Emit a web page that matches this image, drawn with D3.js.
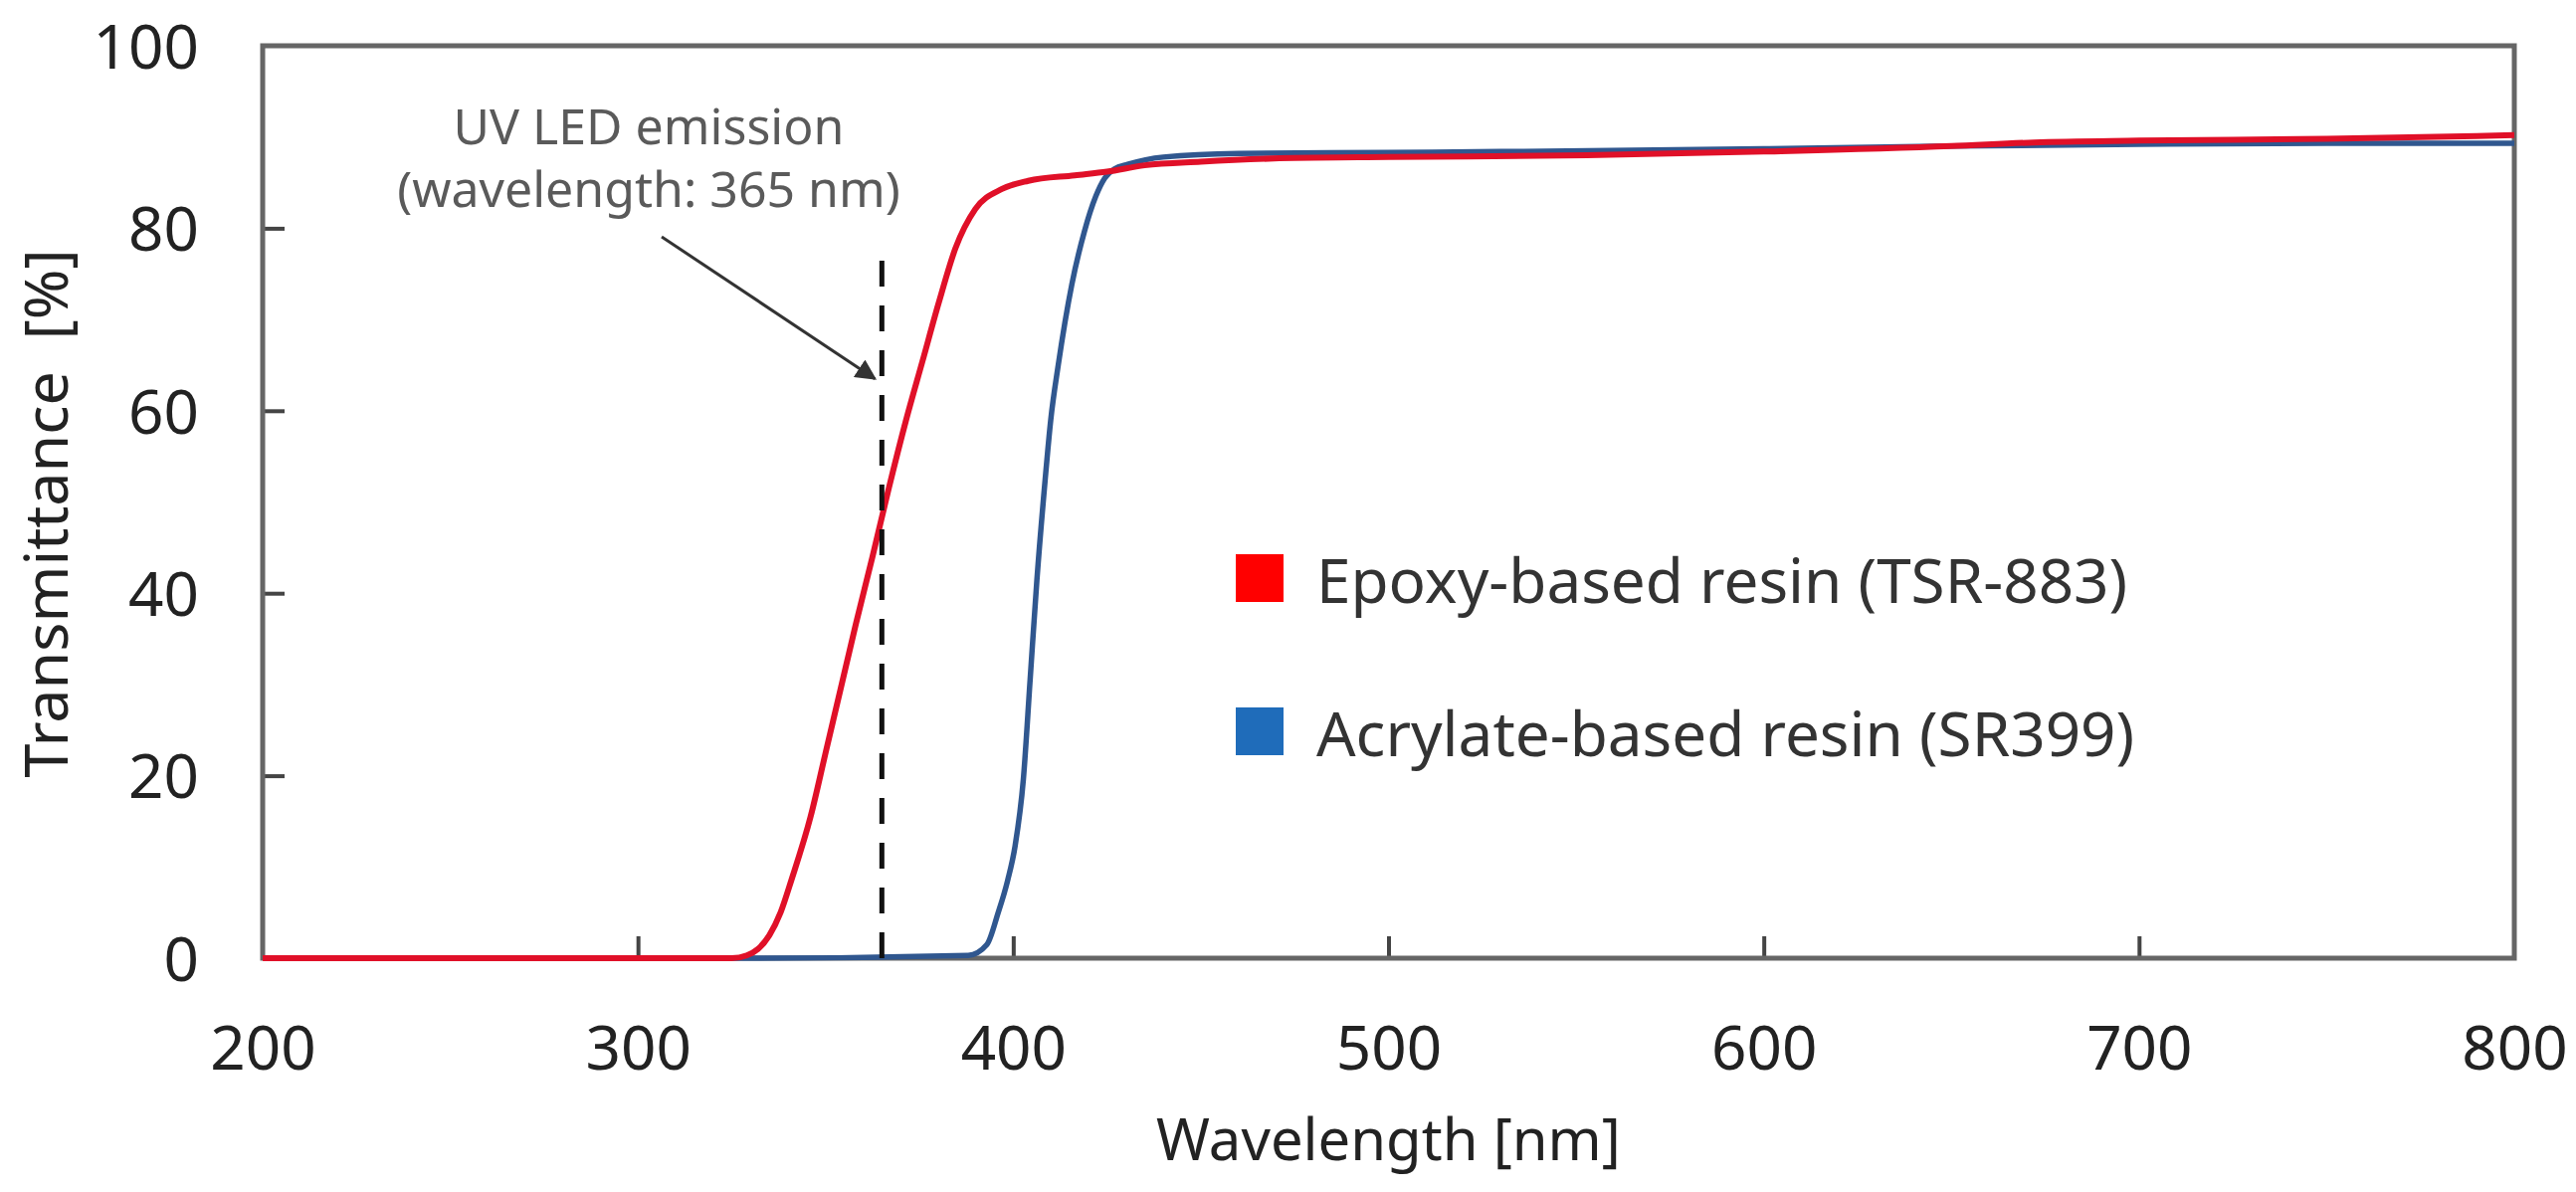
<!DOCTYPE html>
<html>
<head>
	<meta charset="utf-8">
	<title>Transmittance spectra</title>
	<script src="https://d3js.org/d3.v7.min.js"></script>
	<style>
		body { margin: 0; background: #fff; }
		text { font-family: "Noto Sans", "Open Sans", sans-serif; }
		.tick text { fill: #222; }
	</style>
</head>
<body>
	<svg width="2589" height="1198"></svg>
	<script>

		// wavelength [nm] and transmittance [%]
		var epoxyNm  = [200, 300, 325, 329, 332, 335, 338, 341, 346, 350, 354, 358, 362.5, 366.9, 371.4, 375.8, 380.2, 384.6, 389.9, 397, 404, 416.4, 425, 435, 450, 475, 500, 553, 600, 650, 672, 700, 750, 790, 800];
		var epoxyT   = [0, 0, 0, 0.3, 1, 2.5, 5, 8.7, 15.5, 22.5, 29.5, 36.5, 44, 51.6, 58.9, 65.4, 71.9, 77.8, 82.1, 84.3, 85.2, 85.8, 86.2, 86.9, 87.3, 87.7, 87.8, 88.0, 88.4, 89.0, 89.4, 89.6, 89.8, 90.1, 90.2];
		var acrylNm  = [200, 330, 388, 393, 396, 398.5, 400.5, 402.7, 404.5, 406.3, 408.5, 410, 412, 415.6, 419, 422, 424.4, 427, 430.5, 440, 460, 500, 530, 600, 650, 700, 750, 800];
		var acrylT   = [0, 0, 0.3, 1.5, 5, 8.5, 12.3, 19.6, 30.5, 41.4, 52.4, 59, 65, 73.8, 79.7, 83.5, 85.5, 86.5, 87, 87.8, 88.2, 88.3, 88.4, 88.7, 89.0, 89.2, 89.3, 89.3];

		var xTicks = [200, 300, 400, 500, 600, 700, 800];
		var yTicks = [0, 20, 40, 60, 80, 100];
		var legendNames = ["Epoxy-based resin (TSR-883)", "Acrylate-based resin (SR399)"];
		var ledNm = 365, ledTop = 76.6;

		var svg = d3.select("svg");

		var x = d3.scaleLinear().domain([200, 800]).range([264, 2527]),
		y = d3.scaleLinear().domain([0, 100]).range([963, 46]);

		svg.append("rect").attr("width", 2589).attr("height", 1198).attr("fill", "#fff");

		// axes with inward ticks
		var gx = svg.append("g")
		.attr("transform", "translate(0," + y(0) + ")")
		.call(d3.axisBottom(x).tickValues(xTicks).tickSize(-22).tickPadding(0).tickFormat(d3.format("d")));
		gx.selectAll(".tick text").attr("y", 112).attr("dy", 0).style("font-size", "62px");

		var gy = svg.append("g")
		.attr("transform", "translate(" + x(200) + ",0)")
		.call(d3.axisLeft(y).tickValues(yTicks).tickSize(-22).tickPadding(0));
		gy.selectAll(".tick text").attr("x", -64).attr("dy", "0.36em").style("font-size", "62px");

		svg.selectAll(".domain").remove();
		svg.selectAll(".tick line").attr("stroke", "#444").attr("stroke-width", 4);
		gx.selectAll(".tick").filter(function(d) { return d == 200 || d == 800; }).select("line").remove();
		gy.selectAll(".tick").filter(function(d) { return d == 0 || d == 100; }).select("line").remove();

		// frame
		svg.append("rect")
		.attr("x", x(200)).attr("y", y(100))
		.attr("width", x(800) - x(200)).attr("height", y(0) - y(100))
		.attr("fill", "none").attr("stroke", "#666").attr("stroke-width", 5);

		// axis titles
		svg.append("text")
		.attr("x", (x(200) + x(800)) / 2).attr("y", 1166)
		.attr("text-anchor", "middle").style("font-size", "58px").attr("fill", "#222")
		.text("Wavelength [nm]");

		svg.append("text")
		.attr("transform", "translate(68," + 516 + ") rotate(-90)")
		.attr("text-anchor", "middle").style("font-size", "61px").attr("fill", "#222")
		.attr("xml:space", "preserve")
		.text("Transmittance  [%]");

		// spectra
		var line = d3.line()
		.x(function(d) { return x(d[0]); })
		.y(function(d) { return y(d[1]); })
		.curve(d3.curveMonotoneX);

		svg.append("path")
		.datum(d3.zip(acrylNm, acrylT))
		.attr("d", line).attr("fill", "none")
		.attr("stroke", "#30578f").attr("stroke-width", 5.5);

		svg.append("path")
		.datum(d3.zip(epoxyNm, epoxyT))
		.attr("d", line).attr("fill", "none")
		.attr("stroke", "#e01028").attr("stroke-width", 6);

		// UV LED marker
		svg.append("line")
		.attr("x1", x(ledNm)).attr("x2", x(ledNm))
		.attr("y1", y(0)).attr("y2", y(ledTop))
		.attr("stroke", "#111").attr("stroke-width", 5)
		.attr("stroke-dasharray", "26,19");

		var note = svg.append("text")
		.attr("text-anchor", "middle").attr("fill", "#5a5a5a").style("font-size", "50px");
		note.append("tspan").attr("x", 652).attr("y", 145).text("UV LED emission");
		note.append("tspan").attr("x", 652).attr("y", 208).text("(wavelength: 365 nm)");

		svg.append("defs").append("marker")
		.attr("id", "head").attr("viewBox", "0 0 10 10")
		.attr("refX", 9).attr("refY", 5)
		.attr("markerWidth", 7).attr("markerHeight", 7)
		.attr("markerUnits", "strokeWidth")
		.attr("orient", "auto")
		.append("path").attr("d", "M0,0L10,5L0,10z").attr("fill", "#333");

		svg.append("line")
		.attr("x1", 665).attr("y1", 238)
		.attr("x2", x(ledNm) - 7).attr("y2", y(63.5))
		.attr("stroke", "#333").attr("stroke-width", 3)
		.attr("marker-end", "url(#head)");

		// legend
		var leg = svg.append("g").selectAll("g")
		.data(legendNames)
		.enter().append("g")
		.attr("transform", function(d, i) { return "translate(1242," + (557 + i * 154) + ")"; });

		leg.append("rect")
		.attr("width", 48).attr("height", 48)
		.attr("fill", function(d, i) { return i == 0 ? "#ff0000" : "#1f6cba"; });

		leg.append("text")
		.attr("x", 81).attr("y", 49)
		.style("font-size", "62px").attr("fill", "#333")
		.text(function(d) { return d; });

	</script>
</body>
</html>
